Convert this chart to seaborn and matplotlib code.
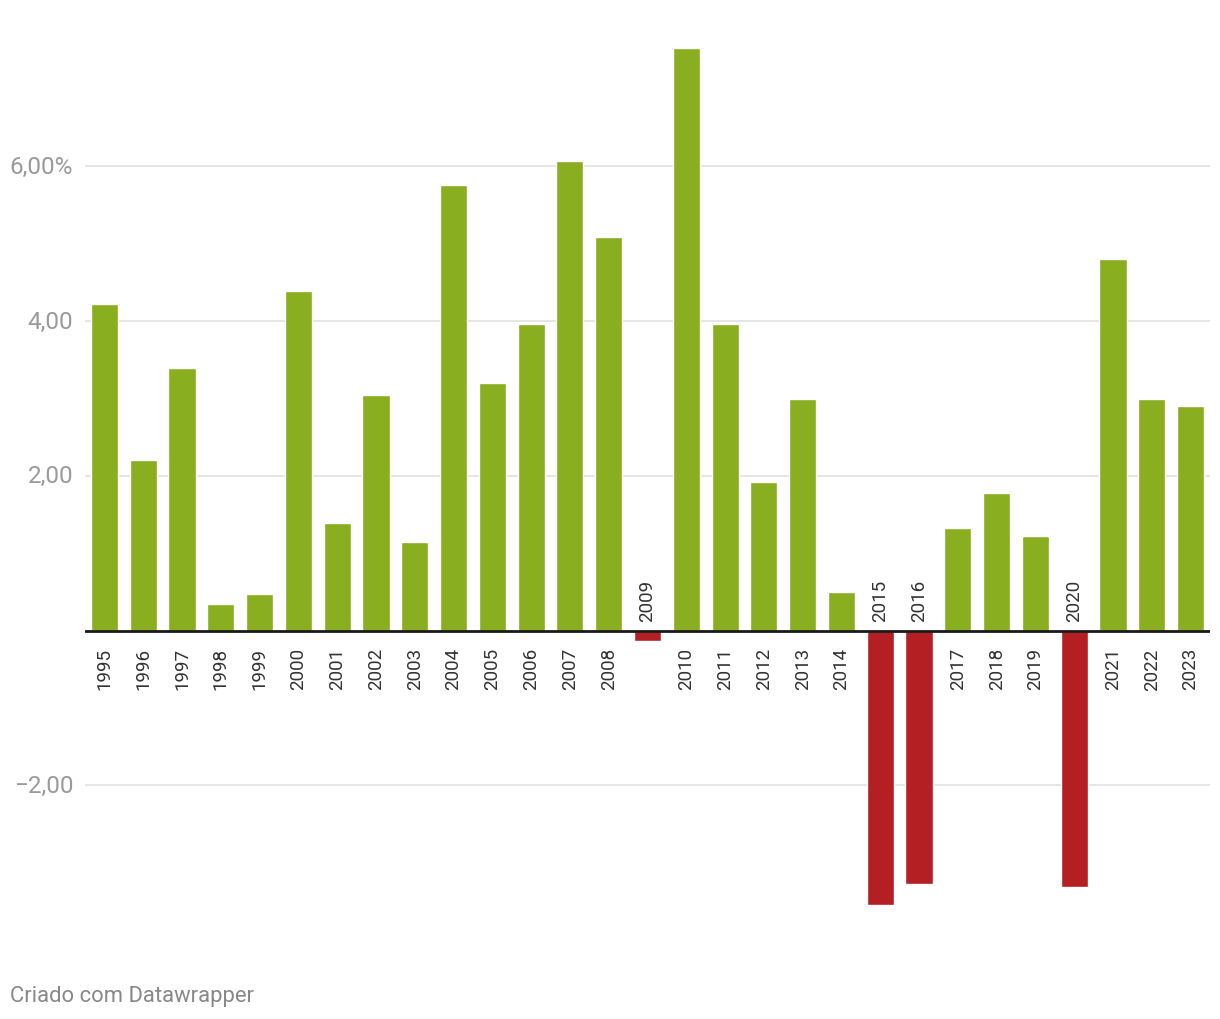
import matplotlib
matplotlib.use("Agg")
import matplotlib.pyplot as plt
import seaborn as sns
import pandas as pd
import numpy as np

years = [str(y) for y in range(1995, 2024)]
growth = [4.22, 2.21, 3.39, 0.34, 0.47, 4.39, 1.39, 3.05, 1.14, 5.76,
          3.20, 3.96, 6.07, 5.09, -0.13, 7.53, 3.97, 1.92, 3.00, 0.50,
          -3.55, -3.28, 1.32, 1.78, 1.22, -3.31, 4.80, 3.00, 2.90]
ytick_vals = [-2, 2, 4, 6]
ytick_labels = ["\u22122,00", "2,00", "4,00", "6,00%"]
footer = "Criado com Datawrapper"

GREEN = "#89ae1f"
RED = "#b31f23"

df = pd.DataFrame({"year": years, "growth": growth})
df["sign"] = np.where(df["growth"] >= 0, "pos", "neg")

sns.set_theme(style="white")
plt.rcParams["font.family"] = ["Roboto", "DejaVu Sans"]

fig = plt.figure(figsize=(12.2, 10.2), dpi=100)
ax = fig.add_axes([85 / 1220, (1020 - 934) / 1020, 1125 / 1220, 898 / 1020])

sns.barplot(data=df, x="year", y="growth", hue="sign",
            palette={"pos": GREEN, "neg": RED}, dodge=False,
            width=0.70, legend=False, ax=ax, saturation=1)

ax.set_xlim(-0.5, len(years) - 0.5)
ax.set_ylim(-3.91, 7.70)

for v in ytick_vals:
    ax.axhline(v, color="#e3e3e3", lw=1.3, zorder=0)
ax.axhline(0, color="#1a1a1a", lw=2, zorder=3)

ax.set_yticks(ytick_vals)
ax.set_yticklabels(ytick_labels, fontsize=17.5, color="#9a9a9a")
for lbl in ax.get_yticklabels():
    lbl.set_va("center")
ax.tick_params(axis="y", length=0, pad=8.5)
ax.set_xticks([])
ax.set_xlabel("")
ax.set_ylabel("")
for s in ax.spines.values():
    s.set_visible(False)

for i, (yr, v) in enumerate(zip(years, growth)):
    if v >= 0:
        ax.annotate(yr, xy=(i, 0), xytext=(0, -12), textcoords="offset points",
                    rotation=90, ha="center", va="top", fontsize=13.5, color="#333333")
    else:
        ax.annotate(yr, xy=(i, 0), xytext=(0, 7), textcoords="offset points",
                    rotation=90, ha="center", va="bottom", fontsize=13.5, color="#333333")

fig.text(10 / 1220, 1 - 997 / 1020, footer, fontsize=15.8, color="#888888",
         ha="left", va="center")

fig.savefig("out.png", dpi=100, facecolor="white")
